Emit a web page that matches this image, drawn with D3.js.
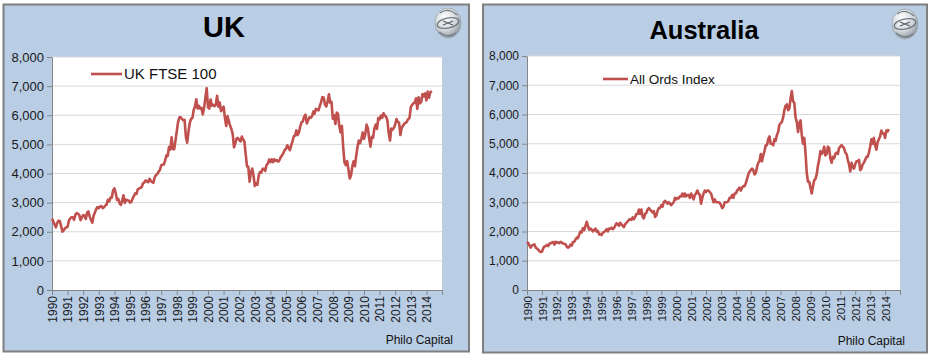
<!DOCTYPE html>
<html><head><meta charset="utf-8">
<script src="https://cdn.jsdelivr.net/npm/d3@7"></script>
<style>body{margin:0;background:#fff}svg{display:block;font-family:Arial,"Liberation Sans",sans-serif}</style>
</head><body><svg id="c" width="933" height="357"></svg>
<script>
// ---------- DATA ----------
const yearLabels = ["1990","1991","1992","1993","1994","1995","1996","1997","1998","1999","2000","2001","2002","2003","2004","2005","2006","2007","2008","2009","2010","2011","2012","2013","2014"];
const yTicks = [0,1000,2000,3000,4000,5000,6000,7000,8000];
const startYear = 1990; // monthly series start (Jan 1990)
const ukFtse = [
 2450,2350,2250,2150,2300,2380,2370,2200,2000,2050,2120,2150,
 2170,2380,2460,2500,2500,2410,2590,2640,2620,2570,2400,2490,
 2570,2560,2440,2650,2700,2520,2400,2310,2550,2660,2780,2850,
 2810,2870,2880,2810,2840,2900,2930,3100,3040,3170,3170,3420,
 3490,3330,3090,3130,2970,2920,3080,3250,2990,3100,3080,3070,
 3000,3020,3140,3220,3320,3300,3460,3480,3510,3530,3660,3690,
 3760,3730,3700,3820,3750,3710,3680,3870,3950,3980,4060,4120,
 4280,4310,4310,4440,4620,4600,4910,4820,5240,4840,4830,5140,
 5460,5770,5930,5930,5870,5830,5840,5250,5060,5440,5740,5880,
 5900,6180,6300,6550,6230,6320,6230,6250,6030,6260,6600,6930,
 6270,6230,6540,6330,6360,6310,6360,6670,6290,6440,6140,6220,
 6300,5920,5630,5970,5800,5640,5530,5350,4900,5040,5200,5220,
 5160,5100,5270,5170,5090,4660,4250,4230,3720,4040,4170,3940,
 3570,3660,3610,3930,4050,4030,4160,4160,4090,4290,4340,4480,
 4390,4490,4390,4490,4430,4460,4410,4460,4570,4620,4700,4810,
 4850,4970,4890,4800,4960,5110,5280,5300,5480,5320,5420,5620,
 5760,5790,5960,6020,5720,5830,5930,5910,5960,6130,6050,6220,
 6200,6170,6310,6450,6620,6610,6360,6300,6470,6720,6430,6460,
 5880,6000,5700,6090,6050,5620,5410,5640,4900,4380,4290,4430,
 4150,3830,3930,4240,4420,4250,4610,4910,5130,5040,5190,5410,
 5190,5350,5680,5550,5190,4920,5260,5230,5550,5680,5530,5900,
 5860,5990,5910,6070,5990,5950,5820,5390,5130,5540,5510,5570,
 5680,5870,5770,5740,5320,5570,5640,5710,5740,5780,5870,5900,
 6280,6360,6410,6430,6580,6220,6620,6410,6460,6730,6650,6750,
 6510,6810,6600,6780,6840
];
const allOrds = [
 1650,1600,1520,1450,1520,1540,1560,1450,1420,1380,1330,1300,
 1310,1420,1490,1500,1540,1500,1580,1600,1620,1640,1550,1650,
 1620,1630,1600,1650,1620,1590,1580,1560,1480,1450,1480,1550,
 1520,1640,1650,1720,1790,1770,1900,2000,1970,2120,2050,2180,
 2330,2200,2060,2100,2070,2000,2050,2100,2000,2020,1900,1910,
 1880,1960,1980,2020,2080,2000,2100,2100,2130,2080,2120,2200,
 2280,2260,2200,2300,2230,2200,2150,2250,2300,2350,2400,2420,
 2400,2480,2420,2500,2600,2600,2750,2600,2750,2500,2450,2600,
 2640,2750,2800,2750,2700,2650,2700,2500,2550,2700,2800,2800,
 2900,2850,3000,3050,3000,2950,3000,2950,2900,2950,3000,3150,
 3100,3150,3130,3200,3200,3300,3200,3300,3200,3250,3250,3150,
 3300,3200,3100,3250,3300,3400,3300,3250,2950,3150,3300,3400,
 3350,3400,3400,3350,3300,3150,3000,3100,3000,3000,3000,2980,
 2900,2800,2850,3000,3000,3000,3050,3150,3150,3250,3150,3300,
 3300,3400,3450,3500,3400,3500,3550,3550,3650,3800,3950,4050,
 4100,4150,4100,3950,4000,4200,4350,4400,4650,4400,4600,4750,
 4950,4950,5150,5250,5000,5000,4950,5150,5100,5300,5400,5650,
 5700,5750,5900,6150,6300,6350,6150,6200,6550,6800,6450,6400,
 5900,5750,5400,5700,5800,5300,5000,5200,4700,4000,3700,3700,
 3500,3300,3550,3750,3800,3950,4250,4450,4750,4650,4700,4900,
 4600,4650,4900,4850,4500,4350,4550,4500,4650,4700,4650,4850,
 4900,4950,4900,4850,4700,4650,4450,4300,4050,4350,4200,4150,
 4300,4400,4400,4450,4100,4150,4300,4350,4450,4550,4550,4700,
 4900,5150,5000,5200,4950,4800,5050,5150,5250,5450,5350,5350,
 5200,5450,5420,5500
];

// ---------- DRAW ----------
const svg = d3.select("#c");
const defs = svg.append("defs");
const grad = defs.append("radialGradient").attr("id","lg").attr("cx","38%").attr("cy","32%").attr("r","70%");
grad.append("stop").attr("offset","0%").attr("stop-color","#ffffff");
grad.append("stop").attr("offset","60%").attr("stop-color","#d3d8dc");
grad.append("stop").attr("offset","100%").attr("stop-color","#8d969e");

const panels = [
 {box:[3.5,4.5,465.5,347], plot:[52,57,442,290], title:"UK", titleX:224, titleY:37, titleSize:29,
  series:ukFtse, legend:"UK FTSE 100", legX:[91,122], legY:74, legSize:15, yFont:13, xFont:12,
  credX:453, credY:344, credSize:12, logo:[448,23]},
 {box:[483,4.5,444,348], plot:[527,56,900,290], title:"Australia", titleX:704, titleY:39, titleSize:25.5,
  series:allOrds, legend:"All Ords Index", legX:[603,628], legY:79, legSize:13.5, yFont:12, xFont:11.5,
  credX:905, credY:345, credSize:12, logo:[905,24]}
];

panels.forEach(p => {
  const g = svg.append("g");
  g.append("rect").attr("x",p.box[0]).attr("y",p.box[1]).attr("width",p.box[2]).attr("height",p.box[3])
    .attr("fill","#b9cde5").attr("stroke","#7f7f7f").attr("stroke-width",2);
  const x = d3.scaleLinear().domain([1990,2015]).range([p.plot[0],p.plot[2]]);
  const y = d3.scaleLinear().domain([0,8000]).range([p.plot[3],p.plot[1]]);
  g.append("rect").attr("x",x(1990)).attr("y",y(8000)).attr("width",x(2015)-x(1990)).attr("height",y(0)-y(8000)).attr("fill","#fff");
  g.append("g").selectAll("line").data(yTicks.filter(d=>d>0)).join("line")
    .attr("x1",x(1990)).attr("x2",x(2015)).attr("y1",d=>y(d)).attr("y2",d=>y(d))
    .attr("stroke","#d9d9d9").attr("stroke-width",1);
  // y axis
  g.append("g").attr("transform",`translate(${x(1990)},0)`)
    .call(d3.axisLeft(y).tickValues(yTicks).tickSize(5).tickSizeOuter(0).tickPadding(3).tickFormat(d3.format(",")))
    .call(s=>{
      s.select(".domain").attr("stroke","#868686");
      s.selectAll(".tick line").attr("stroke","#868686");
      s.selectAll("text").attr("font-size",p.yFont).attr("fill","#1a1a1a").attr("font-family","Arial, 'Liberation Sans', sans-serif");
    });
  // x axis
  const xt = yearLabels.map(Number).concat([2015]);
  g.append("g").attr("transform",`translate(0,${y(0)})`)
    .call(d3.axisBottom(x).tickValues(xt).tickSize(5).tickSizeOuter(0).tickFormat(d => d===2015 ? "" : String(d)))
    .call(s=>{
      s.select(".domain").attr("stroke","#868686");
      s.selectAll(".tick line").attr("stroke","#868686");
      s.selectAll("text").attr("font-size",p.xFont).attr("fill","#1a1a1a").attr("font-family","Arial, 'Liberation Sans', sans-serif")
        .attr("transform","rotate(-90)").attr("text-anchor","end").attr("x",-6).attr("y",0).attr("dy","0.36em");
    });
  // series
  const line = d3.line().x((d,i)=>x(startYear + i/12)).y(d=>y(d)).curve(d3.curveLinear);
  g.append("path").datum(p.series).attr("d",line).attr("fill","none").attr("stroke","#c0504d")
    .attr("stroke-width",2.6).attr("stroke-linejoin","round");
  // legend
  g.append("line").attr("x1",p.legX[0]).attr("x2",p.legX[1]).attr("y1",p.legY).attr("y2",p.legY)
    .attr("stroke","#c0504d").attr("stroke-width",2.6);
  g.append("text").attr("x",p.legX[1]+2).attr("y",p.legY).attr("dy","0.36em").attr("font-size",p.legSize)
    .attr("fill","#111").text(p.legend);
  // title
  g.append("text").attr("x",p.titleX).attr("y",p.titleY).attr("text-anchor","middle")
    .attr("font-size",p.titleSize).attr("font-weight","bold").attr("fill","#000").text(p.title);
  // credit
  g.append("text").attr("x",p.credX).attr("y",p.credY).attr("text-anchor","end")
    .attr("font-size",p.credSize).attr("fill","#111").text("Philo Capital");
  // logo
  const lg = g.append("g").attr("transform",`translate(${p.logo[0]},${p.logo[1]})`);
  lg.append("ellipse").attr("rx",13).attr("ry",15).attr("fill","url(#lg)").attr("stroke","#9aa3ab").attr("stroke-width",0.8);
  lg.append("ellipse").attr("rx",11).attr("ry",5).attr("fill","none").attr("stroke","#737c84").attr("stroke-width",1.4).attr("transform","rotate(-12)");
  lg.append("path").attr("d","M-8,-10 Q0,-16 9,-8").attr("fill","none").attr("stroke","#737c84").attr("stroke-width",1.3);
  lg.append("path").attr("d","M-9,9 Q0,16 8,10").attr("fill","none").attr("stroke","#737c84").attr("stroke-width",1.3);
  lg.append("path").attr("d","M-5,-2 L5,2 M-5,2 L5,-2").attr("stroke","#555d64").attr("stroke-width",1.2);
});
</script>
</body></html>
